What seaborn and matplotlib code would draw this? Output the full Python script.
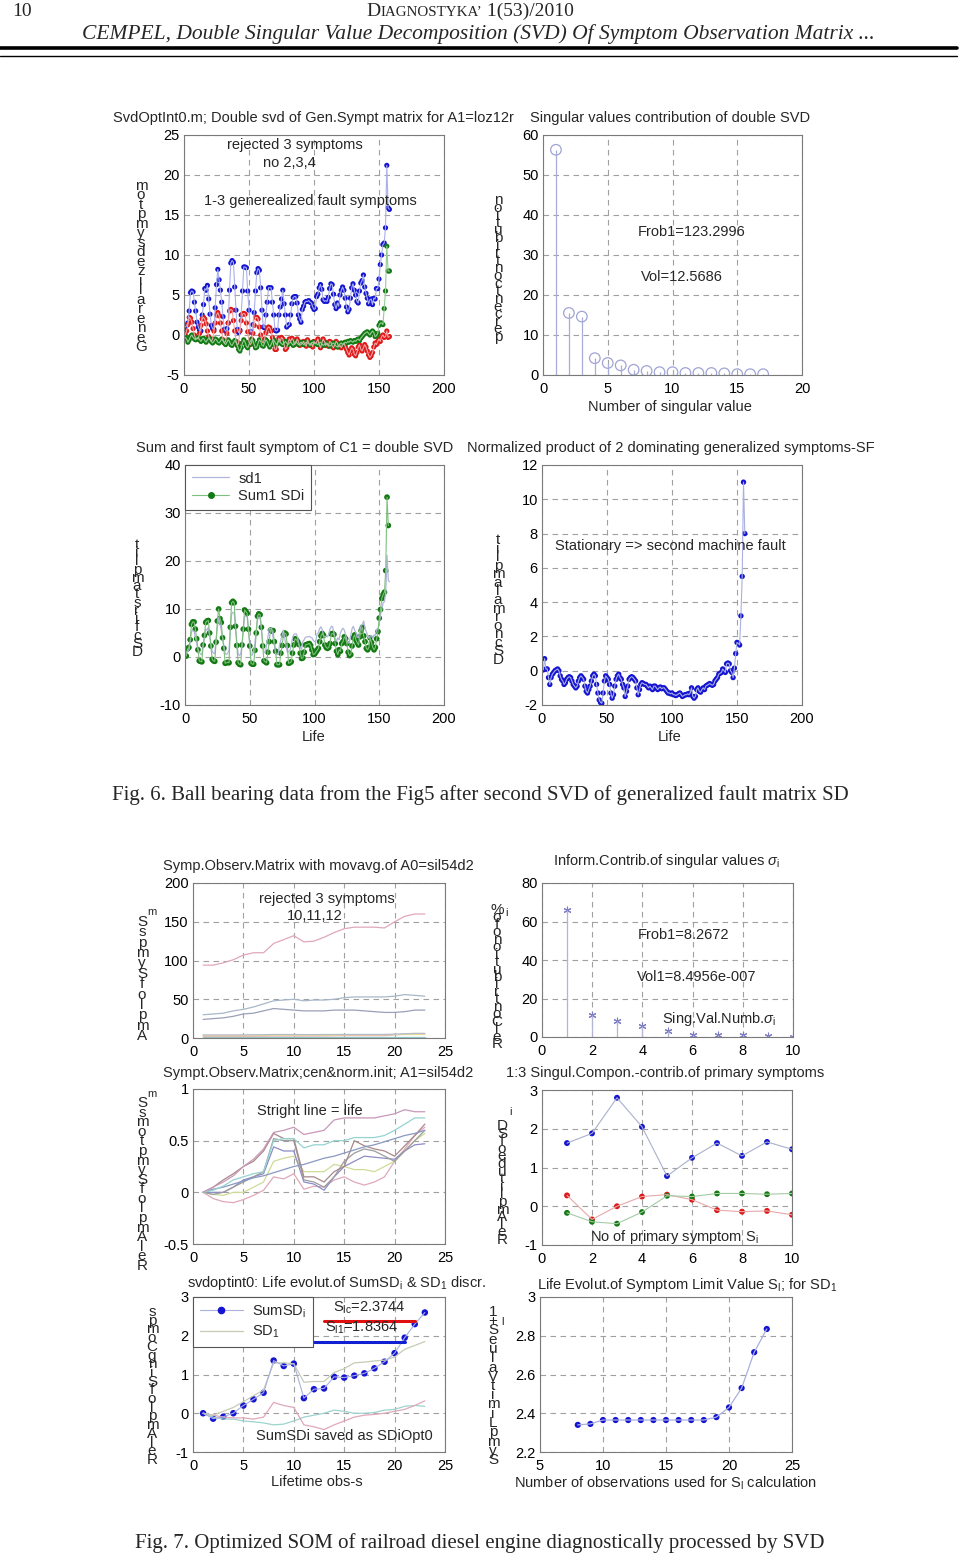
import numpy as np
import matplotlib
matplotlib.use("Agg")
import matplotlib.pyplot as plt
import seaborn as sns
from matplotlib.lines import Line2D
from matplotlib.ticker import FuncFormatter

# ---------------- data ----------------
# Fig 6a: generalized fault symptoms (double SVD), life index 1..N
gs1_blue = [
    1.0, 1.2, 1.5, 3.0, 5.3, 5.5, 5.4, 4.1, 3.0, 1.6,
    1.0, 0.6, 0.5, 2.5, 3.8, 5.8, 5.6, 6.2, 4.5, 2.6,
    1.2, 0.8, 0.7, 3.4, 6.3, 8.2, 6.9, 5.6, 4.1, 2.3,
    0.7, 0.5, 0.8, 1.5, 5.6, 9.0, 9.3, 9.1, 6.0, 3.1,
    0.7, 0.3, 0.6, 2.5, 5.5, 8.5, 8.5, 8.4, 5.5, 3.1,
    0.4, 0.4, 1.3, 2.8, 5.5, 7.8, 8.3, 8.1, 5.9, 3.1,
    1.0, 0.9, 2.5, 4.1, 5.9, 5.9, 5.9, 4.1, 2.5, 0.6,
    0.5, 0.6, 2.5, 3.5, 4.5, 5.6, 3.9, 2.5, 1.0, 1.2,
    1.3, 2.5, 3.9, 4.7, 4.8, 4.8, 4.0, 2.5, 2.0, 1.6,
    3.2, 3.6, 4.1, 4.2, 4.2, 4.3, 4.1, 4.0, 3.5, 3.2, 3.3, 4.8,
    5.1, 5.9, 6.3, 5.7, 4.4, 4.2, 4.3, 4.2, 4.7, 5.8,
    6.4, 6.3, 5.1, 3.8, 3.3, 4.0, 3.6, 5.0, 5.6, 6.0,
    5.6, 4.6, 3.5, 2.9, 3.2, 4.6, 5.9, 6.4, 5.6, 5.0,
    4.2, 4.0, 5.5, 6.5, 6.8, 7.5, 6.0, 5.2, 4.6, 3.9,
    4.4, 4.5, 3.8, 4.6, 4.5, 5.8, 5.8,
    7.0, 8.8, 10.0, 11.3, 11.5, 13.4, 21.2, 15.9, 15.7]
gs2_red = [
    0.0, 0.5, 1.3, 2.2, 2.1, 1.6, 0.8, 0.0, -0.5, -0.4,
    -0.5, 0.2, 1.2, 2.0, 2.2, 2.0, 1.4, 0.5, -0.2, -0.6,
    -0.8, -0.5, 0.5, 1.5, 2.5, 2.8, 2.4, 1.5, 0.5, -0.6,
    -1.0, -0.8, 0.2, 1.5, 3.0, 3.2, 3.1, 1.8, 0.5, -0.8,
    -1.3, -1.0, 0.5, 1.8, 2.6, 2.7, 2.6, 1.5, 0.4, -0.9,
    -1.2, -1.0, 0.2, 1.2, 2.2, 2.2, 2.0, 1.0, 0.0, -0.8,
    -1.0, -0.5, 0.3, 0.8, 1.0, 0.9, 0.5, -0.3, -1.2, -1.8,
    -1.8, -1.0, -0.4, -0.8, -0.3, -0.5, -1.2, -1.8, -1.6, -1.0,
    -0.5, -0.8, -0.4, -0.6, -1.2, -1.0, -0.5, -0.8, -1.3, -1.2,
    -1.0, -0.8, -1.2, -1.4, -0.6, -1.0, -1.3, -1.0, -1.5, -0.8, -1.1, -0.9,
    -0.5, -1.2, -1.6, -1.0, -0.5, -0.8, -1.3, -1.0, -1.4, -0.8,
    -0.9, -1.4, -1.6, -1.2, -0.8, -1.0, -1.5, -1.3, -1.6, -1.2,
    -1.0, -1.4, -1.8, -2.2, -2.5, -2.0, -1.6, -1.8, -2.4, -2.6,
    -2.2, -1.5, -1.2, -1.8, -2.0, -1.6, -1.2, -1.5, -2.0, -2.5,
    -2.8, -2.6, -2.2, -1.5, -1.0, -1.2, -0.8,
    -0.5, -0.8, -0.2, 0.0, -0.3, -0.2, 0.5, -0.3, -0.2]
gs3_green = [
    -0.3, -0.5, -0.9, -0.6, -0.2, 0.0, -0.3, -0.5, -0.6, -0.4,
    -0.3, -0.6, -0.8, -0.5, -0.4, -0.7, -0.9, -0.6, -0.4, -0.5,
    -0.8, -1.0, -0.8, -0.5, -0.6, -0.9, -1.0, -0.8, -0.5, -0.7,
    -1.0, -1.2, -0.9, -0.6, -0.8, -1.2, -1.3, -1.0, -0.7, -0.9,
    -1.3, -1.8, -2.0, -1.6, -1.0, -0.6, -0.9, -1.4, -1.6, -1.2,
    -0.8, -0.5, -0.7, -1.2, -1.6, -1.5, -1.0, -0.6, -0.8, -1.3,
    -1.4, -1.0, -0.6, -0.8, -1.2, -1.5, -1.2, -0.8, -0.6, -0.9,
    -1.2, -1.0, -0.7, -0.9, -1.1, -1.2, -1.0, -0.8, -1.0, -1.2,
    -1.0, -0.9, -1.1, -1.3, -1.0, -0.8, -1.0, -1.2, -1.1, -0.9,
    -1.0, -1.2, -1.1, -0.9, -1.0, -1.1, -1.2, -1.0, -0.9, -1.1, -1.0, -1.1,
    -1.2, -1.0, -0.9, -1.1, -1.3, -1.2, -1.0, -1.1, -1.2, -1.4,
    -1.3, -1.1, -1.0, -1.2, -1.4, -1.5, -1.3, -1.1, -1.0, -1.2,
    -1.1, -0.9, -1.0, -0.8, -0.9, -0.7, -0.8, -0.9, -0.7, -0.8,
    -0.6, -0.5, -0.7, -0.4, -0.2, 0.0, 0.2, 0.3, 0.4, 0.2,
    0.0, 0.3, 0.5, 0.3, -0.2, -0.1, 0.2,
    1.2, 1.5, 1.5, 1.3, 3.3, 5.5, 11.1, 8.0, 8.0]

# Fig 6b: singular value contribution
sv_contrib = [56.3, 15.5, 14.6, 4.2, 3.0, 2.4, 1.3, 1.0, 0.7, 0.7,
              0.5, 0.5, 0.5, 0.4, 0.2, 0.2, 0.2]

# Fig 6c: Sum1 SDi
sum1_sdi = [
    0.2, 1.7, 2.0, 3.6, 6.8, 7.3, 7.3, 5.8, 3.8, 1.5,
    -0.8, -0.9, -1.0, 2.5, 4.5, 7.2, 7.5, 7.6, 5.0, 2.3,
    -0.5, -0.8, -0.9, 3.1, 7.5, 10.0, 8.0, 7.2, 4.0, 1.8,
    -1.3, -1.2, -1.1, -1.2, 6.2, 11.3, 11.6, 11.3, 6.4, 2.4,
    -1.2, -1.5, -1.6, 2.5, 5.8, 9.8, 9.5, 9.1, 5.8, 2.3,
    -1.3, -1.5, -1.5, 1.4, 5.0, 8.5, 9.0, 8.8, 6.2, 2.3,
    -0.8, -1.0, -1.2, 1.0, 3.2, 5.6, 5.4, 5.5, 3.2, 1.2,
    -1.6, -1.6, -1.6, 0.8, 2.4, 4.6, 5.0, 4.8, 2.4, -1.3,
    -1.2, -1.0, 0.8, 2.5, 3.8, 3.6, 3.2, 2.6, 0.8, -0.3,
    -0.2, 1.0, 2.5, 2.6, 2.7, 2.8, 2.4, 1.5, 0.5, 0.6, 1.0, 1.4,
    1.8, 3.2, 4.4, 4.9, 4.5, 2.5, 2.0, 1.8, 2.0, 2.8,
    4.8, 4.9, 4.7, 2.8, 1.2, 0.5, 1.5, 1.2, 2.8, 3.2,
    4.2, 3.8, 2.8, 1.0, 0.3, 0.5, 2.3, 4.0, 4.6, 3.5,
    3.0, 2.5, 4.2, 5.5, 6.2, 4.4, 3.2, 1.8, 1.5, 2.0,
    4.0, 3.0, 2.0, 1.5, 2.0, 3.8, 5.3,
    8.1, 9.9, 12.2, 13.0, 13.5, 18.0, 33.3, 27.4]

# Fig 6d: normalized product SF
norm_prod = [
    0.05, 0.7, 0.1, 0.1, -0.4, -0.8, -0.4, -0.2, -0.1, 0.0,
    0.05, 0.1, 0.0, -0.3, -0.5, -0.6, -0.8, -0.7, -0.5, -0.4,
    -0.35, -0.4, -0.6, -0.8, -0.9, -1.0, -0.9, -0.6, -0.4, -0.3,
    -0.4, -0.5, -0.9, -1.2, -1.3, -1.1, -0.9, -0.6, -0.3, -0.2,
    -0.3, -0.8, -1.3, -1.7, -1.85, -1.9, -1.3, -0.6, -0.3, -0.4,
    -0.5, -0.8, -1.3, -1.6, -1.4, -0.9, -0.5, -0.3, -0.2, -0.4,
    -0.5, -0.8, -1.0, -1.5, -1.2, -0.9, -0.5, -0.4, -0.35, -0.4,
    -0.5, -0.6, -1.0, -1.4, -1.1, -0.8, -0.7, -0.75, -0.8, -0.8,
    -0.9, -1.0, -0.9, -1.0, -1.1, -0.9, -0.9, -1.0, -1.1, -1.0, -0.95, -1.05, -1.0,
    -1.0, -1.1, -1.2, -1.3, -1.3, -1.35, -1.3, -1.4, -1.4, -1.45,
    -1.4, -1.35, -1.3, -1.4, -1.5, -1.45, -1.4, -1.4, -1.35, -1.4,
    -1.3, -1.0, -1.5, -1.6, -1.5, -1.1, -1.0, -1.2, -1.25, -1.1,
    -1.0, -1.1, -0.9, -0.85, -0.8, -0.75, -0.8, -0.85, -0.8, -0.6,
    -0.5, -0.4, -0.2, -0.15, -0.1, 0.1, 0.0, -0.1, 0.4, 0.45,
    0.4, 0.0, -0.1, -0.4, 0.15, 1.0, 1.65, 1.6,
    1.5, 3.2, 5.5, 11.0, 8.0]

# Fig 7a: symptom observation matrix with moving average (obs 1..23)
som_pink = [94, 94, 97, 101, 107, 110, 110, 122, 127, 132, 124, 125, 130,
            136, 141, 143, 143, 143, 142, 150, 157, 160, 160]
som_gray1 = [30, 31, 32, 35, 37, 40, 44, 48, 49, 50, 48, 49, 49, 50, 52, 53,
             53, 53, 53, 54, 56, 55, 54]
som_gray2 = [24, 25, 26, 28, 31, 32, 35, 38, 37, 36, 35, 35, 35, 36, 36, 36,
             35, 34, 33, 33, 34, 36, 36]
som_low1 = [3, 3, 3, 3, 3, 3, 3, 3.5, 3.5, 3.5, 3.5, 3.5, 3.5, 3.5, 4, 4, 4,
            4, 4, 4.5, 4.5, 4.5, 4.5]
som_low2 = [1, 1, 1, 1, 1, 1, 1, 1, 1, 1, 1, 1, 1, 1, 1, 1, 1, 1, 1, 1, 1, 1, 1]
som_low3 = [2, 2, 2, 2, 2, 2, 2.2, 2.5, 2.5, 2.5, 2.5, 2.5, 2.6, 2.8, 3, 3, 3,
            3, 3, 4, 5, 5, 5]
som_low4 = [4, 4, 4, 4, 4, 4.2, 4.3, 4.5, 4.5, 4.5, 4.4, 4.4, 4.5, 4.5, 4.6,
            4.6, 4.6, 4.6, 4.6, 5, 5.5, 6, 6]

# Fig 7b: information contribution of singular values
inf_contrib = [66, 11.5, 8.2, 5.5, 3.3, 1.0, 1.0, 0.9, 0.3, 0.2]

# Fig 7c: centered & normalized SOM
cn_1 = [0, 0.05, 0.1, 0.16, 0.25, 0.32, 0.42, 0.58, 0.6, 0.63, 0.56, 0.58,
        0.6, 0.7, 0.72, 0.72, 0.72, 0.72, 0.74, 0.76, 0.8, 0.78, 0.78]
cn_2 = [0, 0.02, 0.06, 0.12, 0.15, 0.18, 0.2, 0.5, 0.52, 0.52, 0.43, 0.46,
        0.46, 0.5, 0.5, 0.53, 0.53, 0.53, 0.55, 0.6, 0.66, 0.72, 0.72]
cn_life = [0.0, 0.03, 0.05, 0.08, 0.11, 0.14, 0.16, 0.19, 0.22, 0.25, 0.27,
           0.30, 0.33, 0.35, 0.38, 0.41, 0.44, 0.46, 0.49, 0.52, 0.55, 0.57, 0.60]
cn_4 = [0, -0.02, 0.0, 0.05, 0.1, 0.15, 0.2, 0.52, 0.5, 0.5, 0.12, 0.1, 0.05,
        0.15, 0.3, 0.38, 0.42, 0.4, 0.35, 0.3, 0.4, 0.5, 0.6]
cn_5 = [0, 0.0, 0.0, 0.05, 0.12, 0.15, 0.18, 0.44, 0.4, 0.4, 0.1, 0.08, 0.02,
        0.15, 0.25, 0.3, 0.35, 0.34, 0.33, 0.32, 0.4, 0.46, 0.47]
cn_6 = [0, -0.02, -0.03, 0.0, 0.0, 0.05, 0.1, 0.3, 0.33, 0.35, 0.2, 0.2, 0.2,
        0.27, 0.25, 0.22, 0.22, 0.2, 0.25, 0.3, 0.4, 0.5, 0.57]
cn_7 = [0, -0.06, -0.09, -0.1, -0.07, -0.03, 0.02, 0.15, 0.13, 0.18, 0.03,
        0.06, 0.05, 0.12, 0.15, 0.1, 0.07, 0.1, 0.15, 0.3, 0.42, 0.55, 0.63]
cn_8 = [0, 0.05, 0.12, 0.18, 0.25, 0.3, 0.4, 0.57, 0.52, 0.52, 0.15, 0.15,
        0.1, 0.2, 0.25, 0.5, 0.45, 0.42, 0.4, 0.35, 0.45, 0.55, 0.66]

# Fig 7d: singular components contribution of primary symptoms 1..10
sc_blue = [1.63, 1.88, 2.8, 2.05, 0.78, 1.25, 1.63, 1.3, 1.66, 1.47]
sc_red = [0.28, -0.34, 0.0, 0.25, 0.3, 0.17, -0.1, -0.14, -0.12, -0.22]
sc_green = [-0.17, -0.4, -0.45, -0.15, 0.27, 0.25, 0.33, 0.33, 0.31, 0.33]

# Fig 7e: life evolution of SumSDi & SD1
sum_sdi = [0.0, -0.14, -0.09, 0.0, 0.2, 0.36, 0.53, 1.36, 1.22, 1.28, 0.39,
           0.62, 0.64, 0.94, 0.92, 0.97, 1.03, 1.16, 1.33, 1.55, 1.95, 2.3, 2.6]
sd_1 = [0, -0.05, 0.05, 0.15, 0.3, 0.45, 0.6, 1.3, 1.3, 1.28, 0.8, 0.82, 0.82,
        1.05, 1.15, 1.3, 1.32, 1.35, 1.37, 1.45, 1.65, 1.75, 1.85]
sd_2 = [0, -0.05, -0.1, -0.12, -0.12, -0.15, -0.1, 0.28, 0.2, 0.15, -0.3,
        -0.35, -0.42, -0.3, -0.2, -0.1, -0.05, -0.03, 0.0, 0.05, 0.1, 0.2, 0.32]
sd_3 = [0, -0.1, -0.15, -0.15, -0.2, -0.22, -0.25, -0.3, -0.28, -0.2, -0.1,
        -0.05, 0.0, 0.08, 0.05, 0.0, 0.0, 0.02, 0.08, 0.1, 0.18, 0.2, 0.18]
limit_lc = 2.3744
limit_l1 = 1.8364
limit_lc_span = [13, 22]
limit_l1_span = [11, 21]

# Fig 7f: symptom limit value evolution
sl_obs = [8, 9, 10, 11, 12, 13, 14, 15, 16, 17, 18, 19, 20, 21, 22, 23]
sl_val = [2.34, 2.345, 2.365, 2.365, 2.365, 2.365, 2.365, 2.365, 2.365, 2.365,
          2.365, 2.38, 2.43, 2.53, 2.715, 2.835]

# ---------------- style ----------------
sns.set_theme(style="white")
plt.rcParams['font.family'] = ['Liberation Sans', 'DejaVu Sans']
plt.rcParams['axes.unicode_minus'] = False
plt.rcParams['mathtext.fontset'] = 'custom'
plt.rcParams['mathtext.rm'] = 'Liberation Sans'
plt.rcParams['mathtext.it'] = 'Liberation Sans:italic'
plt.rcParams['mathtext.sf'] = 'Liberation Sans'

W, H = 960, 1557
fig = plt.figure(figsize=(W / 100, H / 100), dpi=100)
fig.patch.set_facecolor('white')

BLUE, RED, GREEN = '#1414d2', '#e01818', '#137a13'
FS = 10.5


def ftext(x, y, s, **kw):
    return fig.text(x / W, 1 - y / H, s, **kw)


def px_axes(l, t, r, b):
    return fig.add_axes([l / W, 1 - b / H, (r - l) / W, (b - t) / H])


def style_ax(ax, xlim, ylim, xt, yt):
    ax.set_xlim(xlim)
    ax.set_ylim(ylim)
    ax.set_xticks(xt)
    ax.set_yticks(yt)
    fmt = FuncFormatter(lambda v, p: f'{v:g}')
    ax.xaxis.set_major_formatter(fmt)
    ax.yaxis.set_major_formatter(fmt)
    ax.grid(True, linestyle=(0, (5, 4)), color='#a0a0a0', linewidth=0.8)
    ax.set_axisbelow(True)
    for s in ax.spines.values():
        s.set_visible(True)
        s.set_color('#7a7a7a')
        s.set_linewidth(0.8)
    ax.tick_params(axis='both', length=0, labelsize=FS, labelcolor='black')
    ax.tick_params(axis='x', pad=5)
    ax.tick_params(axis='y', pad=3)
    ax.set_xlabel('')
    ax.set_ylabel('')
    ax.set_facecolor('white')


def stacked(x, ytop, ybot, s, size=11):
    # garbled vertical label of the original: upright letters stacked top-down
    chars = [c for c in s[::-1] if c != ' ']
    n = len(chars)
    for i, c in enumerate(chars):
        y = ytop + (ybot - ytop) * i / (n - 1)
        ftext(x, y, c, ha='center', va='center', fontsize=size)


def line_dots(ax, y, lc, dc, s=6, lw=0.8):
    x = np.arange(1, len(y) + 1)
    sns.lineplot(x=x, y=y, ax=ax, color=lc, linewidth=lw, sort=False, legend=False)
    sns.scatterplot(x=x, y=y, ax=ax, color=dc, s=s, edgecolor='none', legend=False)


# ---------------- header ----------------
ftext(12, 12, '10', fontsize=14, family='Liberation Serif', ha='left', va='center')
ax0 = fig.add_axes([0, 0, 1, 1])
ax0.axis('off')
t1 = ftext(366, 12, 'D', fontsize=14, family='Liberation Serif', ha='left', va='center')
t2 = ax0.annotate('IAGNOSTYKA’', xy=(1, 0), xycoords=t1, xytext=(0, 1.2), textcoords='offset points',
                  fontsize=10.8, family='Liberation Serif', ha='left', va='bottom')
ax0.annotate(' 1(53)/2010', xy=(1, 0), xycoords=t2, xytext=(0, -1.2), textcoords='offset points',
             fontsize=14, family='Liberation Serif', ha='left', va='bottom')
ftext(478, 34, 'CEMPEL, Double Singular Value Decomposition (SVD) Of Symptom Observation Matrix ...',
      fontsize=15.5, family='Liberation Serif', style='italic', ha='center', va='center')
fig.add_artist(Line2D([0, 0.997], [1 - 48 / H] * 2, transform=fig.transFigure, color='black', lw=2.6))
fig.add_artist(Line2D([0, 0.997], [1 - 56 / H] * 2, transform=fig.transFigure, color='black', lw=1.0))

# ---------------- Fig 6a ----------------
ax = px_axes(184, 135, 444, 375)
line_dots(ax, gs1_blue, '#a9b0ea', BLUE, s=14)
line_dots(ax, gs2_red, '#f2a6a6', RED, s=14)
line_dots(ax, gs3_green, '#97cc97', GREEN, s=14)
style_ax(ax, (0, 200), (-5, 25), range(0, 201, 50), range(-5, 26, 5))
ax.text(85, 23.75, 'rejected 3 symptoms', ha='center', va='center', fontsize=FS)
ax.text(81, 21.5, 'no 2,3,4', ha='center', va='center', fontsize=FS)
ax.text(97, 16.75, '1-3 generealized fault symptoms', ha='center', va='center', fontsize=FS)
ftext(313, 118, 'SvdOptInt0.m; Double svd of Gen.Sympt matrix for A1=loz12r', ha='center', va='center', fontsize=FS)
stacked(141, 186, 347, 'Generalized symptom')

# ---------------- Fig 6b ----------------
ax = px_axes(543, 135, 802, 375)
xs = np.arange(1, len(sv_contrib) + 1)
ax.vlines(xs, 0, sv_contrib, color='#a8acd8', lw=0.9)
sns.scatterplot(x=xs, y=sv_contrib, ax=ax, marker='o', s=58, facecolor='none',
                edgecolor='#a0a4d4', linewidth=0.9, legend=False)
style_ax(ax, (0, 20), (0, 60), range(0, 21, 5), range(0, 61, 10))
ax.text(7.3, 35.7, 'Frob1=123.2996', ha='left', va='center', fontsize=FS)
ax.text(7.6, 24.5, 'Vol=12.5686', ha='left', va='center', fontsize=FS)
ftext(670, 118, 'Singular values contribution of double SVD', ha='center', va='center', fontsize=FS)
ftext(670, 407, 'Number of singular value', ha='center', va='center', fontsize=FS)
stacked(498, 200, 337, 'percent contribution')

# ---------------- Fig 6c ----------------
ax = px_axes(185, 465, 444, 705)
xg = np.arange(1, len(gs1_blue) + 1)
sns.lineplot(x=xg, y=gs1_blue, ax=ax, color='#b0b6d8', linewidth=0.9, sort=False, legend=False)
line_dots(ax, sum1_sdi, '#7fbf7f', GREEN, s=17)
style_ax(ax, (0, 200), (-10, 40), range(0, 201, 50), range(-10, 41, 10))
h = [Line2D([], [], color='#b0b6d8', lw=0.9, label='sd1'),
     Line2D([], [], color='#7fbf7f', lw=0.8, marker='o', mfc=GREEN, mec=GREEN, ms=4, label='Sum1 SDi')]
leg = ax.legend(handles=h, loc='upper left', bbox_to_anchor=(0, 1), borderaxespad=0, fontsize=FS,
                frameon=True, fancybox=False, framealpha=1, edgecolor='#555555',
                handlelength=2.6, borderpad=0.45, labelspacing=0.25, handletextpad=0.6)
leg.get_frame().set_linewidth(0.8)
ftext(295, 448, 'Sum and first fault symptom of C1 = double SVD', ha='center', va='center', fontsize=FS)
ftext(314, 737, 'Life', ha='center', va='center', fontsize=FS)
stacked(137, 545, 652, 'DSc first amplit')

# ---------------- Fig 6d ----------------
ax = px_axes(542, 465, 802, 705)
line_dots(ax, norm_prod, '#aab0e0', BLUE, s=15)
style_ax(ax, (0, 200), (-2, 12), range(0, 201, 50), range(-2, 13, 2))
ax.text(10, 7.27, 'Stationary => second machine fault', ha='left', va='center', fontsize=FS)
ftext(671, 448, 'Normalized product of 2 dominating generalized symptoms-SF', ha='center', va='center', fontsize=FS)
ftext(670, 737, 'Life', ha='center', va='center', fontsize=FS)
stacked(498, 540, 660, 'DSc normal amplit')

# ---------------- caption Fig 6 ----------------
ftext(480, 795, 'Fig. 6. Ball bearing data from the Fig5 after second SVD of generalized fault matrix SD',
      fontsize=15, family='Liberation Serif', ha='center', va='center')

# ---------------- Fig 7a ----------------
ax = px_axes(193, 883, 445, 1038)
xo = np.arange(1, len(som_pink) + 1)
for yv, c in [(som_low2, '#8fc8c8'), (som_low3, '#e8b0c0'), (som_low1, '#e6dc96'), (som_low4, '#b8bcc8'),
              (som_gray2, '#9aa0b8'), (som_gray1, '#a8b8c8'), (som_pink, '#e0a8b8')]:
    sns.lineplot(x=xo, y=yv, ax=ax, color=c, linewidth=0.9, sort=False, legend=False)
style_ax(ax, (0, 25), (0, 200), range(0, 26, 5), range(0, 201, 50))
ax.text(13.3, 179, 'rejected 3 symptoms', ha='center', va='center', fontsize=FS)
ax.text(12.1, 157, '10,11,12', ha='center', va='center', fontsize=FS)
ftext(318, 866, 'Symp.Observ.Matrix with movavg.of A0=sil54d2', ha='center', va='center', fontsize=FS)
stacked(142, 922, 1036, 'Ampl of Symps S')
ftext(152, 912, 'm', ha='center', va='center', fontsize=8)

# ---------------- Fig 7b ----------------
ax = px_axes(542, 883, 793, 1037)
xs = np.arange(1, len(inf_contrib) + 1)
ax.vlines(xs, 0, inf_contrib, color='#b4b4d4', lw=0.9)
sns.scatterplot(x=xs, y=inf_contrib, ax=ax, marker=(6, 2, 0), s=24, color='#7c7cc4',
                edgecolor='#7c7cc4', linewidth=0.8, legend=False)
style_ax(ax, (0, 10), (0, 80), range(0, 11, 2), range(0, 81, 20))
ax.text(3.8, 53, 'Frob1=8.2672', ha='left', va='center', fontsize=FS)
ax.text(3.8, 31, 'Vol1=8.4956e-007', ha='left', va='center', fontsize=FS)
ax.text(4.8, 9.5, r'Sing.Val.Numb.$\sigma_\mathregular{i}$', ha='left', va='center', fontsize=FS)
ftext(666, 861, r'Inform.Contrib.of singular values $\sigma_\mathregular{i}$', ha='center', va='center', fontsize=FS)
stacked(497, 910, 1044, 'Rel Contribution of σ%')
ftext(507, 913, 'i', ha='center', va='center', fontsize=8)

# ---------------- Fig 7c ----------------
ax = px_axes(193, 1089, 445, 1244)
xo = np.arange(1, len(cn_1) + 1)
for yv, c in [(cn_7, '#e0a8b8'), (cn_6, '#cddc96'), (cn_5, '#8c8cc8'), (cn_4, '#9c9c9c'),
              (cn_8, '#a88888'), (cn_life, '#8898c0'), (cn_2, '#94d4d0'), (cn_1, '#c898b8')]:
    sns.lineplot(x=xo, y=yv, ax=ax, color=c, linewidth=0.9, sort=False, legend=False)
style_ax(ax, (0, 25), (-0.5, 1), range(0, 26, 5), [-0.5, 0, 0.5, 1])
ax.text(11.6, 0.79, 'Stright line = life', ha='center', va='center', fontsize=FS)
ftext(318, 1073, 'Sympt.Observ.Matrix;cen&norm.init; A1=sil54d2', ha='center', va='center', fontsize=FS)
stacked(142, 1103, 1266, 'Rel Ampl of Symptoms S')
ftext(152, 1094, 'm', ha='center', va='center', fontsize=8)

# ---------------- Fig 7d ----------------
ax = px_axes(542, 1090, 792, 1245)
line_dots(ax, sc_blue, '#aab0cc', BLUE, s=18)
line_dots(ax, sc_red, '#e8a8a8', RED, s=18)
line_dots(ax, sc_green, '#a4cca4', GREEN, s=18)
style_ax(ax, (0, 10), (-1, 3), range(0, 11, 2), range(-1, 4, 1))
ax.text(1.9, -0.79, r'No of primary symptom S$_\mathregular{i}$', ha='left', va='center', fontsize=FS)
ftext(665, 1073, '1:3 Singul.Compon.-contrib.of primary symptoms', ha='center', va='center', fontsize=FS)
stacked(502, 1126, 1240, 'Rel Amplitude of SD')
ftext(510, 1112, 'i', ha='center', va='center', fontsize=8)

# ---------------- Fig 7e ----------------
ax = px_axes(193, 1297, 445, 1452)
xo = np.arange(1, len(sum_sdi) + 1)
for yv, c in [(sd_3, '#9cd4d0'), (sd_2, '#e0a8b8'), (sd_1, '#c4ccb4')]:
    sns.lineplot(x=xo, y=yv, ax=ax, color=c, linewidth=0.9, sort=False, legend=False)
line_dots(ax, sum_sdi, '#aab0e0', BLUE, s=22)
ax.plot(limit_lc_span, [limit_lc, limit_lc], color='#e01010', lw=2.2)
ax.plot(limit_l1_span, [limit_l1, limit_l1], color='#1020d0', lw=2.2)
style_ax(ax, (0, 25), (-1, 3), range(0, 26, 5), range(-1, 4, 1))
ax.text(13.9, 2.72, r'S$_\mathregular{lc}$=2.3744', ha='left', va='center', fontsize=FS)
ax.text(13.1, 2.2, r'S$_\mathregular{l1}$=1.8364', ha='left', va='center', fontsize=FS)
ax.text(6.25, -0.59, 'SumSDi saved as SDiOpt0', ha='left', va='center', fontsize=FS)
h = [Line2D([], [], color='#aab0e0', lw=0.8, marker='o', mfc=BLUE, mec=BLUE, ms=4.5,
            label=r'SumSD$_\mathregular{i}$'),
     Line2D([], [], color='#c4ccb4', lw=0.9, label=r'SD$_\mathregular{1}$')]
leg = ax.legend(handles=h, loc='upper left', bbox_to_anchor=(0, 1), borderaxespad=0, fontsize=FS,
                frameon=True, fancybox=False, framealpha=1, edgecolor='#555555',
                handlelength=3.0, borderpad=0.45, labelspacing=0.25, handletextpad=0.6)
leg.get_frame().set_linewidth(0.8)
ftext(337, 1283, r'svdoptint0: Life evolut.of SumSD$_\mathregular{i}$ & SD$_\mathregular{1}$ discr.',
      ha='center', va='center', fontsize=FS)
ftext(317, 1482, 'Lifetime obs-s', ha='center', va='center', fontsize=FS)
stacked(152, 1312, 1460, 'Rel Ampl of Sing Comps')

# ---------------- Fig 7f ----------------
ax = px_axes(540, 1297, 792, 1452)
sns.lineplot(x=sl_obs, y=sl_val, ax=ax, color='#aab0e0', linewidth=0.9, sort=False, legend=False)
sns.scatterplot(x=sl_obs, y=sl_val, ax=ax, color=BLUE, s=20, edgecolor='none', legend=False)
style_ax(ax, (5, 25), (2.2, 3.0), range(5, 26, 5), [2.2, 2.4, 2.6, 2.8, 3.0])
ftext(687, 1285, r'Life Evolut.of Symptom Limit Value S$_\mathregular{l}$; for SD$_\mathregular{1}$',
      ha='center', va='center', fontsize=FS)
ftext(666, 1483, r'Number of observations used for S$_\mathregular{l}$ calculation', ha='center', va='center', fontsize=FS)
stacked(493, 1312, 1460, 'Symp Limit Value S+1')
ftext(503, 1322, 'l', ha='center', va='center', fontsize=8)

# ---------------- caption Fig 7 ----------------
ftext(480, 1543, 'Fig. 7. Optimized SOM of railroad diesel engine diagnostically processed by SVD',
      fontsize=15, family='Liberation Serif', ha='center', va='center')

fig.savefig('out.png', dpi=100, facecolor='white')
